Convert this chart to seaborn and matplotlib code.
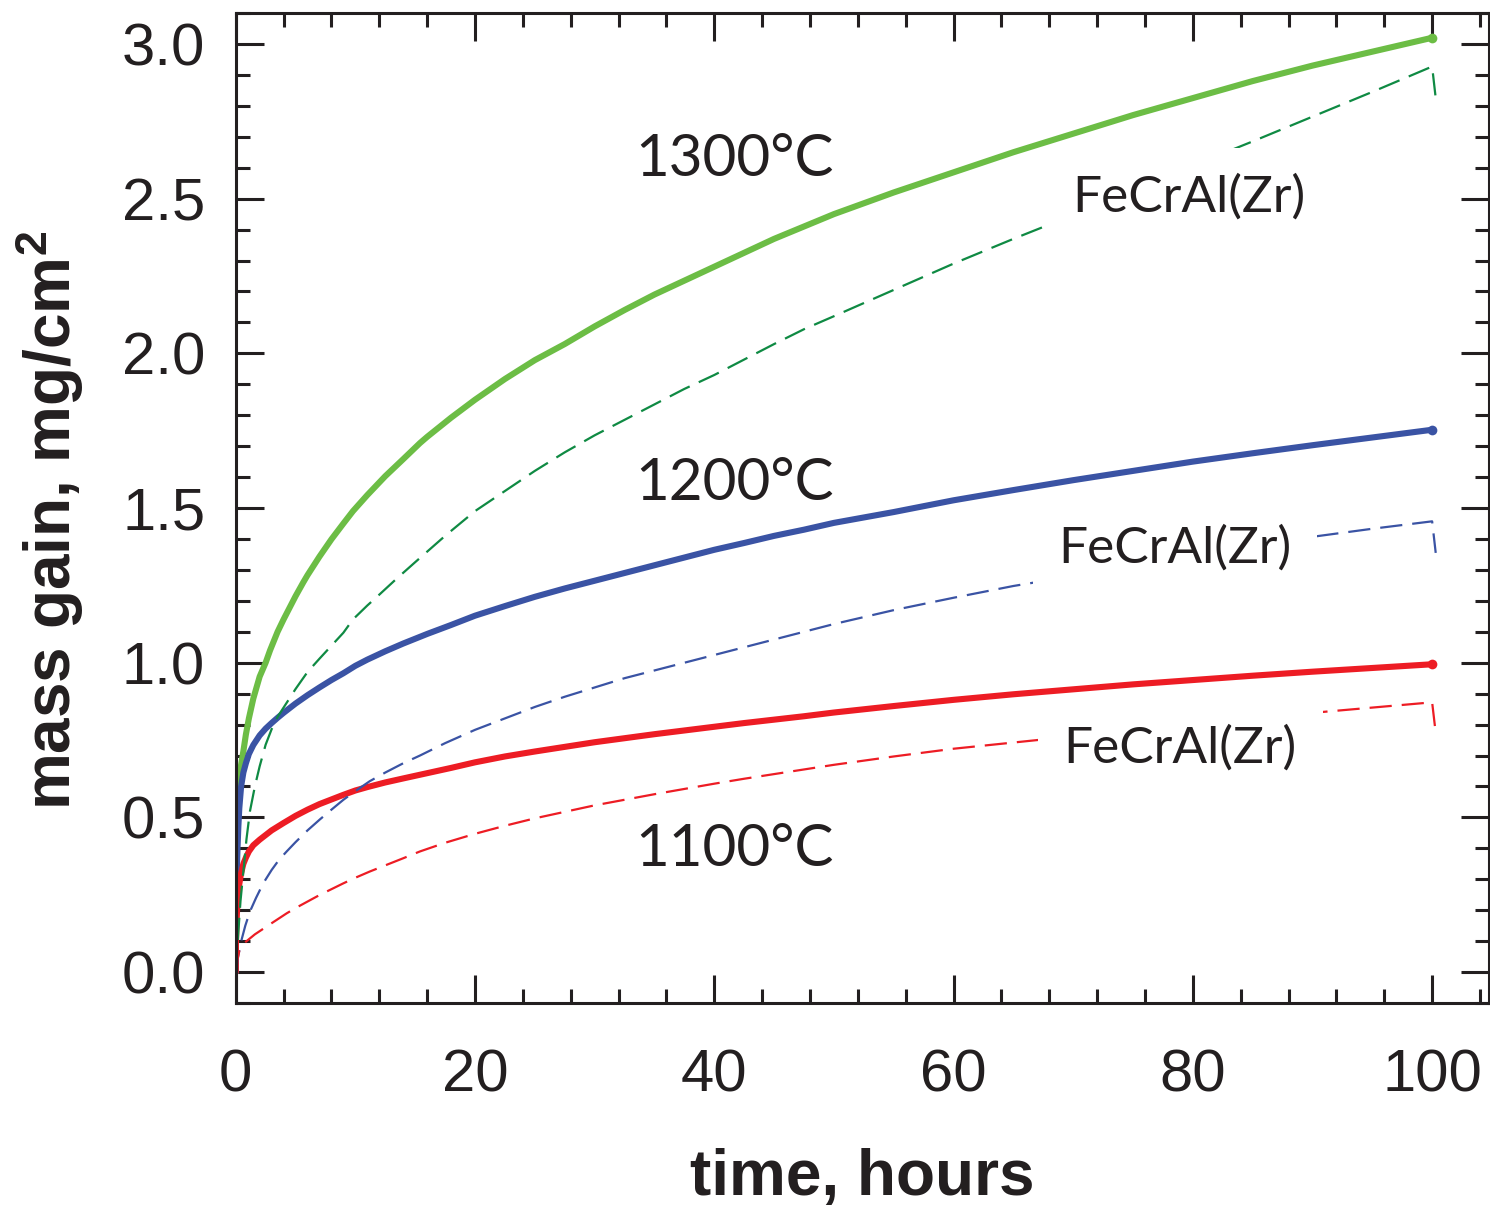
import matplotlib
matplotlib.use("Agg")
import matplotlib.pyplot as plt
import seaborn as sns
from matplotlib.ticker import MultipleLocator

sns.set_theme(style="ticks")
plt.rcParams["font.family"] = ["Liberation Sans", "DejaVu Sans"]
plt.rcParams["mathtext.fontset"] = "custom"
plt.rcParams["mathtext.bf"] = "Liberation Sans:bold"
plt.rcParams["mathtext.rm"] = "Liberation Sans"

# ---------------- data ----------------
# reference alloy, solid curves
t_1300 = [0, 0.02, 0.05, 0.1, 0.15, 0.22, 0.3, 0.45, 0.64, 0.85, 1.1, 1.47, 2.0, 2.5, 2.87,
          3.5, 4.0, 5.0, 5.65, 6.0, 7.0, 8.0, 9.0, 9.8, 11, 12.5, 14, 15.4, 16, 18, 20, 22.5,
          25, 27.5, 30, 32.5, 35, 37.5, 40, 42.5, 45, 47.5, 50, 55, 60, 65, 70, 75, 80, 85,
          90, 95, 100]
m_1300 = [0, 0.24, 0.36, 0.45, 0.52, 0.585, 0.625, 0.67, 0.714, 0.768, 0.82, 0.884, 0.955,
          1.0, 1.04, 1.10, 1.14, 1.215, 1.26, 1.283, 1.343, 1.399, 1.45, 1.49, 1.542, 1.603,
          1.658, 1.71, 1.73, 1.792, 1.85, 1.917, 1.978, 2.03, 2.087, 2.14, 2.19, 2.235, 2.28,
          2.325, 2.37, 2.41, 2.45, 2.52, 2.585, 2.65, 2.71, 2.77, 2.825, 2.88, 2.93, 2.975, 3.02]

t_1200 = [0, 0.02, 0.05, 0.1, 0.15, 0.22, 0.3, 0.45, 0.64, 0.85, 1.1, 1.47, 2.0, 2.5, 3.0,
          3.5, 4.0, 5.0, 6.0, 7.0, 8.0, 9.0, 10, 11, 12.5, 14, 16, 18, 20, 22.5, 25, 27.5, 30,
          32.5, 35, 37.5, 40, 42.5, 45, 47.5, 50, 55, 60, 65, 70, 75, 80, 85, 90, 95, 100]
m_1200 = [0, 0.16, 0.25, 0.34, 0.40, 0.47, 0.53, 0.60, 0.645, 0.675, 0.705, 0.734, 0.765,
          0.787, 0.805, 0.822, 0.838, 0.868, 0.895, 0.92, 0.944, 0.966, 0.99, 1.01, 1.037,
          1.062, 1.093, 1.122, 1.152, 1.183, 1.213, 1.24, 1.265, 1.29, 1.315, 1.34, 1.365,
          1.387, 1.41, 1.43, 1.452, 1.487, 1.525, 1.558, 1.59, 1.62, 1.65, 1.677, 1.703,
          1.728, 1.753]

t_1100 = [0, 0.02, 0.05, 0.1, 0.15, 0.22, 0.3, 0.45, 0.64, 0.85, 1.1, 1.47, 2.0, 2.5, 3.0,
          3.5, 4.0, 5.0, 6.0, 7.0, 8.0, 9.0, 10, 11, 12.5, 14, 16, 18, 20, 22.5, 25, 27.5, 30,
          32.5, 35, 37.5, 40, 42.5, 45, 47.5, 50, 55, 60, 65, 70, 75, 80, 85, 90, 95, 100]
m_1100 = [0, 0.09, 0.14, 0.19, 0.225, 0.26, 0.285, 0.32, 0.35, 0.37, 0.39, 0.41, 0.428,
          0.443, 0.458, 0.47, 0.482, 0.505, 0.525, 0.543, 0.558, 0.573, 0.587, 0.598, 0.613,
          0.626, 0.643, 0.66, 0.678, 0.697, 0.713, 0.728, 0.743, 0.756, 0.769, 0.781, 0.793,
          0.805, 0.816, 0.827, 0.839, 0.86, 0.88, 0.898, 0.914, 0.93, 0.944, 0.958, 0.971,
          0.983, 0.995]

# FeCrAl(Zr), dashed curves (drop at the end = cooling)
t_1300z = [0, 0.1, 0.22, 0.4, 0.64, 0.9, 1.19, 1.6, 2.0, 2.5, 3.0, 3.5, 4.25, 5.0, 6.0, 7.0,
           8.0, 9.0, 9.8, 11, 12, 13.4, 15, 17.5, 20, 22.5, 25, 27.5, 30, 32.5, 35, 37.5, 40,
           42.5, 45, 47.5, 50, 55, 60, 65, 70, 75, 80, 85, 90, 95, 100, 100.3]
m_1300z = [0, 0.06, 0.13, 0.23, 0.325, 0.43, 0.52, 0.60, 0.665, 0.735, 0.785, 0.825, 0.87,
           0.915, 0.97, 1.013, 1.055, 1.097, 1.14, 1.185, 1.22, 1.27, 1.325, 1.41, 1.49, 1.555,
           1.62, 1.68, 1.735, 1.785, 1.835, 1.885, 1.93, 1.98, 2.03, 2.078, 2.12, 2.205, 2.29,
           2.37, 2.447, 2.527, 2.607, 2.685, 2.765, 2.845, 2.927, 2.825]

t_1200z = [0, 0.2, 0.5, 0.8, 1.19, 1.7, 2.3, 3.0, 3.6, 4.26, 5.0, 6.0, 7.05, 8.0, 9.0, 10,
           11.2, 12.5, 14, 15.4, 17.5, 20, 22.5, 25, 27.5, 30, 32.5, 35, 37.5, 40, 42.5, 45,
           47.5, 50, 55, 60, 65, 70, 75, 80, 85, 90, 95, 100, 100.3]
m_1200z = [0, 0.05, 0.106, 0.15, 0.196, 0.24, 0.287, 0.33, 0.362, 0.39, 0.42, 0.458, 0.494,
           0.525, 0.557, 0.585, 0.617, 0.645, 0.675, 0.70, 0.74, 0.783, 0.82, 0.857, 0.89,
           0.92, 0.95, 0.975, 1.0, 1.025, 1.05, 1.075, 1.10, 1.125, 1.17, 1.21, 1.248, 1.28,
           1.313, 1.345, 1.377, 1.407, 1.433, 1.457, 1.355]

t_1100z = [0, 0.15, 0.3, 0.64, 1.0, 1.6, 2.3, 3.0, 4.26, 5.0, 6.0, 7.05, 8.0, 9.0, 10, 11.2,
           12.5, 14, 15.4, 17.5, 20, 22.5, 25, 27.5, 30, 32.5, 35, 37.5, 40, 42.5, 45, 47.5,
           50, 55, 60, 65, 70, 75, 80, 85, 90, 95, 100, 100.3]
m_1100z = [0, 0.04, 0.07, 0.092, 0.103, 0.122, 0.14, 0.158, 0.19, 0.207, 0.228, 0.25, 0.268,
           0.287, 0.305, 0.325, 0.345, 0.368, 0.39, 0.418, 0.447, 0.473, 0.497, 0.518, 0.539,
           0.557, 0.575, 0.592, 0.609, 0.625, 0.64, 0.655, 0.67, 0.697, 0.722, 0.742, 0.762,
           0.782, 0.80, 0.82, 0.838, 0.855, 0.872, 0.773]

temp_labels = ["1300°C", "1200°C", "1100°C"]
alloy_label = "FeCrAl(Zr)"
x_ticks = [0, 20, 40, 60, 80, 100]
y_ticks = [0.0, 0.5, 1.0, 1.5, 2.0, 2.5, 3.0]

# ---------------- styling ----------------
C_TXT = "#231f20"
C_G, C_GD = "#6cbd45", "#0f8a43"
C_B = "#3a53a4"
C_R = "#ed1c24"

fig = plt.figure(figsize=(14.9, 12.05), dpi=100)
ax = fig.add_axes([0.1582, 0.1676, 0.8411, 0.8216])

solid_kw = dict(lw=4.4, estimator=None, sort=False, marker="o", markevery=[-1],
                markersize=7, markeredgewidth=0, ax=ax, solid_joinstyle="round")
dash_kw = dict(lw=1.6, estimator=None, sort=False, linestyle=(0, (10, 4.5)), ax=ax)

sns.lineplot(x=t_1300, y=m_1300, color=C_G, **solid_kw)
sns.lineplot(x=t_1200, y=m_1200, color=C_B, **solid_kw)
sns.lineplot(x=t_1100, y=m_1100, color=C_R, **solid_kw)
sns.lineplot(x=t_1300z, y=m_1300z, color=C_GD, **dash_kw)
sns.lineplot(x=t_1200z, y=m_1200z, color=C_B, **dash_kw)
sns.lineplot(x=t_1100z, y=m_1100z, color=C_R, **dash_kw)

ax.set_xlim(0, 104.75)
ax.set_ylim(-0.1, 3.1)
ax.set_xticks(x_ticks)
ax.set_xticklabels([str(v) for v in x_ticks])
ax.set_yticks(y_ticks)
ax.set_yticklabels([f"{v:.1f}" for v in y_ticks])
ax.xaxis.set_minor_locator(MultipleLocator(4))
ax.yaxis.set_minor_locator(MultipleLocator(0.1))

for s in ax.spines.values():
    s.set_linewidth(2.2)
    s.set_color(C_TXT)
ax.tick_params(which="both", direction="in", top=True, right=True, width=2.2, color=C_TXT)
ax.tick_params(which="major", length=20)
ax.tick_params(which="minor", length=10)
ax.tick_params(axis="x", which="major", labelsize=43, pad=33, labelcolor=C_TXT)
ax.tick_params(axis="y", which="major", labelsize=43, pad=22, labelcolor=C_TXT)

ax.set_xlabel("time, hours", fontsize=46, fontweight="bold", color=C_TXT)
ax.set_ylabel(r"mass gain, mg/cm$\mathbf{^2}$", fontsize=46, fontweight="bold", color=C_TXT)
ax.xaxis.set_label_coords(0.5, -0.146)
ax.yaxis.set_label_coords(-0.1194, 0.488)

lab_font = ["Lato", "DejaVu Sans"]
for txt, y in zip(temp_labels, [2.574, 1.527, 0.342]):
    ax.text(41.7, y, txt, fontsize=42, family=lab_font, color=C_TXT,
            ha="center", va="baseline", zorder=5)

box = dict(boxstyle="square,pad=0.5", facecolor="white", edgecolor="none")
for x, y in zip([69.9, 68.75, 69.2], [2.459, 1.323, 0.677]):
    ax.text(x, y, alloy_label, fontsize=37, family=lab_font, color=C_TXT,
            ha="left", va="baseline", bbox=box, zorder=5)

fig.savefig("out.png", dpi=100, facecolor="white")
